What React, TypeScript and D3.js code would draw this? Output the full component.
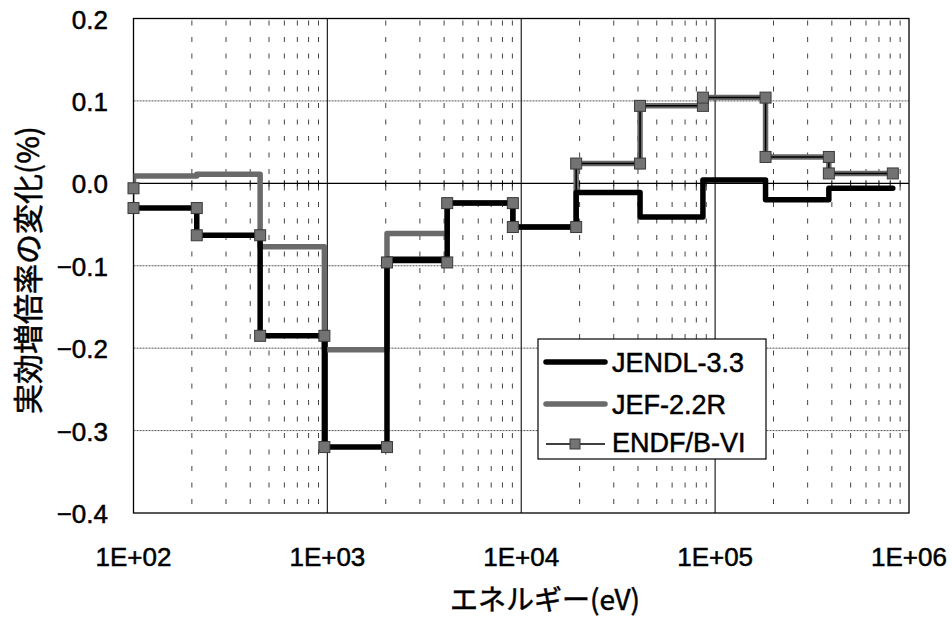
import React from "react";
import * as d3 from "d3";

// Group boundary energies (eV); the first group lies below the plotted range
const energyBounds = [47, 100, 212, 450, 965, 2030, 4150, 9050, 19200, 41000, 86500, 182000, 386000, 825000];

// Change in effective multiplication factor (%) per energy group
const jendl33 = [-0.03, -0.03, -0.063, -0.185, -0.32, -0.092, -0.024, -0.053, -0.011, -0.041, 0.004, -0.02, -0.006];
const jef22r = [-0.008, 0.009, 0.011, -0.077, -0.202, -0.061, -0.024, -0.053, 0.024, 0.094, 0.104, 0.032, 0.012];
const endfb6 = [-0.006, -0.03, -0.063, -0.185, -0.32, -0.096, -0.024, -0.053, 0.024, 0.094, 0.104, 0.032, 0.012];

const seriesNames = ["JENDL-3.3", "JEF-2.2R", "ENDF/B-VI"];
const yTicks = [0.2, 0.1, 0.0, -0.1, -0.2, -0.3, -0.4];
const xTicks = [1e2, 1e3, 1e4, 1e5, 1e6];
const xTickLabels = ["1E+02", "1E+03", "1E+04", "1E+05", "1E+06"];

const W = 952;
const H = 618;
const plot = { left: 133.5, right: 909, top: 18.5, bottom: 513 };

const x = d3.scaleLog().domain([1e2, 1e6]).range([plot.left, plot.right]);
const y = d3.scaleLinear().domain([-0.4, 0.2]).range([plot.bottom, plot.top]);

type Pt = [number, number];

function stepPoints(values: number[]): Pt[] {
  const pts: Pt[] = [];
  values.forEach((v, i) => {
    pts.push([energyBounds[i], v]);
    pts.push([energyBounds[i + 1], v]);
  });
  return pts;
}

const line = d3
  .line<Pt>()
  .x((d) => x(d[0]))
  .y((d) => y(d[1]));

const minorTicks: number[] = [];
for (let e = 2; e < 6; e++) {
  for (let m = 2; m <= 9; m++) minorTicks.push(m * Math.pow(10, e));
}

const latinFont = "'Liberation Sans', Arial, sans-serif";
const cjkFont = "'Noto Sans CJK JP', 'Noto Sans', sans-serif";
const GRAY = "#6a6a6a";

// slightly heavier glyphs for all labels
const textInk = { fill: "#000", stroke: "#000", strokeWidth: 0.5 };

export default function App() {
  const endfPts = stepPoints(endfb6).filter((p) => p[0] >= 100);
  const y0 = y(0);
  return (
    <svg
      width={W}
      height={H}
      viewBox={`0 0 ${W} ${H}`}
      style={{ position: "absolute", left: 0, top: 0, background: "#fff" }}
    >
      <defs>
        <clipPath id="plotClip">
          <rect x={plot.left} y={plot.top} width={plot.right - plot.left} height={plot.bottom - plot.top} />
        </clipPath>
      </defs>
      <rect x={0} y={0} width={W} height={H} fill="#fff" />

      {/* minor vertical gridlines */}
      {minorTicks.map((t) => (
        <line
          key={"mv" + t}
          x1={x(t)}
          x2={x(t)}
          y1={plot.top}
          y2={plot.bottom}
          stroke="#444"
          strokeWidth={1}
          strokeDasharray="5 11.5"
          strokeDashoffset={-2}
        />
      ))}

      {/* horizontal gridlines */}
      {yTicks
        .filter((t) => t !== 0 && t !== 0.2 && t !== -0.4)
        .map((t) => (
          <line
            key={"hg" + t}
            x1={plot.left}
            x2={plot.right}
            y1={y(t)}
            y2={y(t)}
            stroke="#555"
            strokeWidth={1}
            strokeDasharray="2 1"
          />
        ))}

      {/* decade gridlines */}
      {xTicks.slice(1, 4).map((t) => (
        <line key={"dv" + t} x1={x(t)} x2={x(t)} y1={plot.top} y2={plot.bottom} stroke="#222" strokeWidth={1.2} />
      ))}

      {/* zero line with tick marks */}
      <line x1={plot.left} x2={plot.right} y1={y0} y2={y0} stroke="#000" strokeWidth={1.2} />
      {minorTicks.map((t) => (
        <line key={"mt" + t} x1={x(t)} x2={x(t)} y1={y0 - 3} y2={y0 + 3} stroke="#000" strokeWidth={1} />
      ))}

      {/* plot border */}
      <rect
        x={plot.left}
        y={plot.top}
        width={plot.right - plot.left}
        height={plot.bottom - plot.top}
        fill="none"
        stroke="#000"
        strokeWidth={1.3}
      />

      {/* series lines */}
      <g clipPath="url(#plotClip)" fill="none" strokeLinejoin="round" strokeLinecap="round">
        <path d={line(stepPoints(jef22r)) || ""} stroke={GRAY} strokeWidth={5.5} />
        <path d={line(stepPoints(jendl33)) || ""} stroke="#000" strokeWidth={5.5} />
        <path d={line(stepPoints(endfb6)) || ""} stroke="#000" strokeWidth={1.5} />
      </g>

      {/* ENDF/B-VI markers */}
      {endfPts.map((p, i) => (
        <rect
          key={"mk" + i}
          x={x(p[0]) - 5.5}
          y={y(p[1]) - 5.5}
          width={11}
          height={11}
          fill="#737373"
          stroke="#3a3a3a"
          strokeWidth={1}
        />
      ))}

      {/* y tick labels */}
      {yTicks.map((t) => (
        <text
          key={"yl" + t}
          x={108}
          y={y(t) + 1}
          textAnchor="end"
          dominantBaseline="central"
          fontFamily={latinFont}
          fontSize={26}
          {...textInk}
        >
          {t < 0 ? "\u2212" + Math.abs(t).toFixed(1) : t.toFixed(1)}
        </text>
      ))}

      {/* x tick labels */}
      {xTicks.map((t, i) => (
        <text
          key={"xl" + t}
          x={x(t)}
          y={557}
          textAnchor="middle"
          dominantBaseline="central"
          fontFamily={latinFont}
          fontSize={26}
          {...textInk}
        >
          {xTickLabels[i]}
        </text>
      ))}

      {/* axis titles */}
      <text
        x={545}
        y={598}
        textAnchor="middle"
        dominantBaseline="central"
        fontFamily={cjkFont}
        fontSize={28}
        {...textInk}
      >
        エネルギー(eV)
      </text>
      <text
        transform="translate(26,270) rotate(-90)"
        textAnchor="middle"
        dominantBaseline="central"
        fontFamily={cjkFont}
        fontSize={30}
        {...textInk}
      >
        実効増倍率の変化(%)
      </text>

      {/* legend */}
      <g>
        <rect x={538} y={339} width={228} height={120} fill="#fff" stroke="#000" strokeWidth={1.2} />
        <line x1={546} x2={605} y1={362} y2={362} stroke="#000" strokeWidth={5.5} strokeLinecap="round" />
        <line x1={546} x2={605} y1={404} y2={404} stroke={GRAY} strokeWidth={5.5} strokeLinecap="round" />
        <line x1={546} x2={605} y1={444} y2={444} stroke="#000" strokeWidth={1.5} />
        <rect x={570} y={439} width={10} height={10} fill="#737373" stroke="#3a3a3a" strokeWidth={1} />
        {seriesNames.map((n, i) => (
          <text
            key={n}
            x={612}
            y={[363, 405, 443][i]}
            dominantBaseline="central"
            fontFamily={latinFont}
            fontSize={27}
            {...textInk}
          >
            {n}
          </text>
        ))}
      </g>
    </svg>
  );
}
